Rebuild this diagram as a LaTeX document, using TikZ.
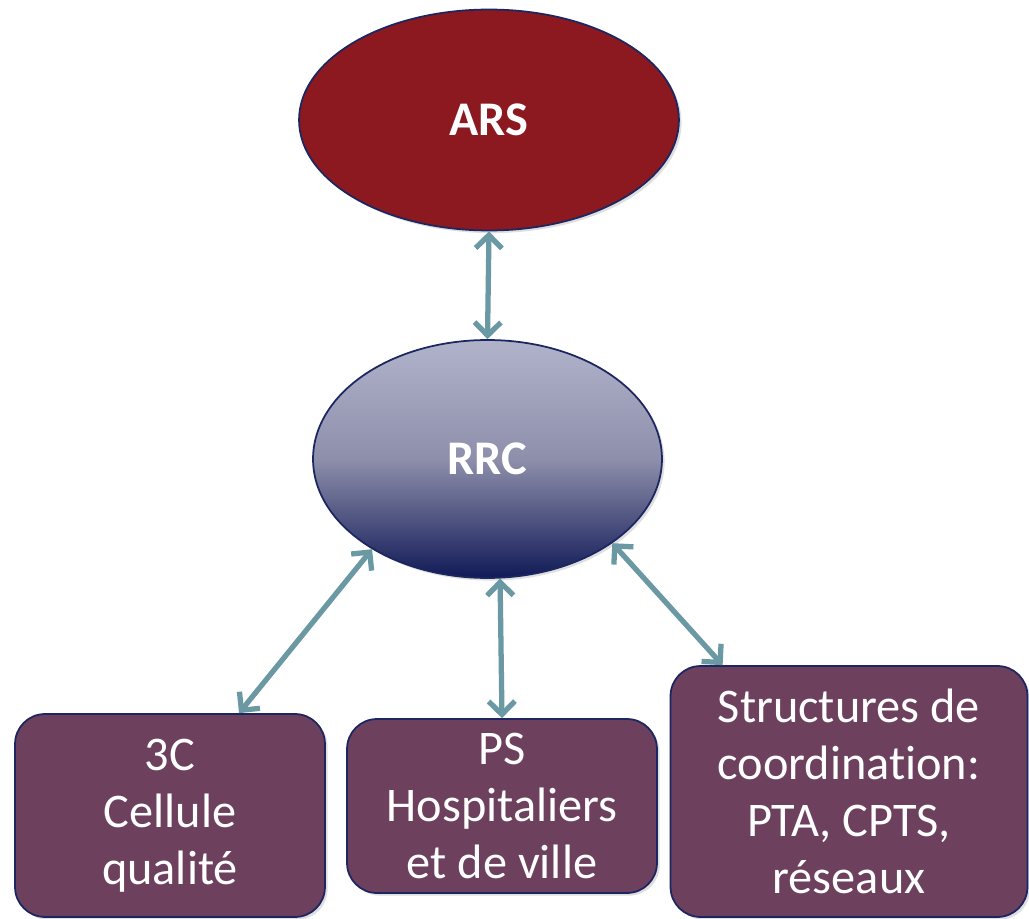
\documentclass[tikz,border=0pt]{standalone}
\usepackage{fontspec}
\setmainfont{Carlito}[Ligatures=NoCommon]
\usetikzlibrary{shapes.geometric,arrows.meta,shadows}
\definecolor{arsred}{HTML}{8C1920}
\definecolor{navyline}{HTML}{1C2660}
\definecolor{boxplum}{HTML}{6D405E}
\definecolor{linkteal}{HTML}{6A98A3}
\definecolor{rrctop}{HTML}{B1B3CB}
\definecolor{rrcmid}{HTML}{8E8FAB}
\definecolor{rrcbot}{HTML}{111A57}

\begin{document}
\begin{tikzpicture}[x=0.02cm,y=-0.02cm,
        bubble/.style={ellipse,draw=navyline,line width=1pt,inner sep=0pt,text=white,
            font=\fontsize{27.5}{32}\selectfont\bfseries,
            drop shadow={opacity=0.25,shadow xshift=1.5pt,shadow yshift=-1.5pt}},
        unit/.style={rectangle,rounded corners=0.6cm,draw=navyline,line width=1pt,fill=boxplum,
            inner sep=0pt,text=white,align=center,font=\fontsize{27.5}{32.5}\selectfont,
            drop shadow={opacity=0.25,shadow xshift=1.5pt,shadow yshift=-1.5pt}},
        link/.style={draw=linkteal,line width=3pt,line cap=round,
            {Straight Barb[length=7.5pt,width=15pt]}-{Straight Barb[length=7.5pt,width=15pt]}}]
    \useasboundingbox (0,0) rectangle (1029,919);
    \node[bubble,fill=arsred,minimum width=7.6cm,minimum height=4.42cm] (ars) at (489,120) {ARS};
    \node[bubble,top color=rrctop,bottom color=rrcbot,middle color=rrcmid,
          minimum width=6.98cm,minimum height=4.76cm] (rrc) at (487.5,459) {RRC};
    \node[unit,minimum width=6.2cm,minimum height=4.06cm] (cel) at (170,815.5) {3C\\Cellule\\qualité};
    \node[unit,minimum width=6.2cm,minimum height=3.48cm] (ps) at (502,806) {PS\\Hospitaliers\\et de ville};
    \node[unit,minimum width=7.14cm,minimum height=5.02cm] (coord) at (849,791.5)
        {Structures de\\coordination:\\PTA, CPTS,\\réseaux};
    \draw[link] (ars.south) -- (rrc.north);
    \draw[link] (rrc.218) -- (cel.56.6);
    \draw[link] (rrc.-84) -- (ps.north);
    \draw[link] (rrc.-34.6) -- (coord.135);
\end{tikzpicture}
\end{document}
